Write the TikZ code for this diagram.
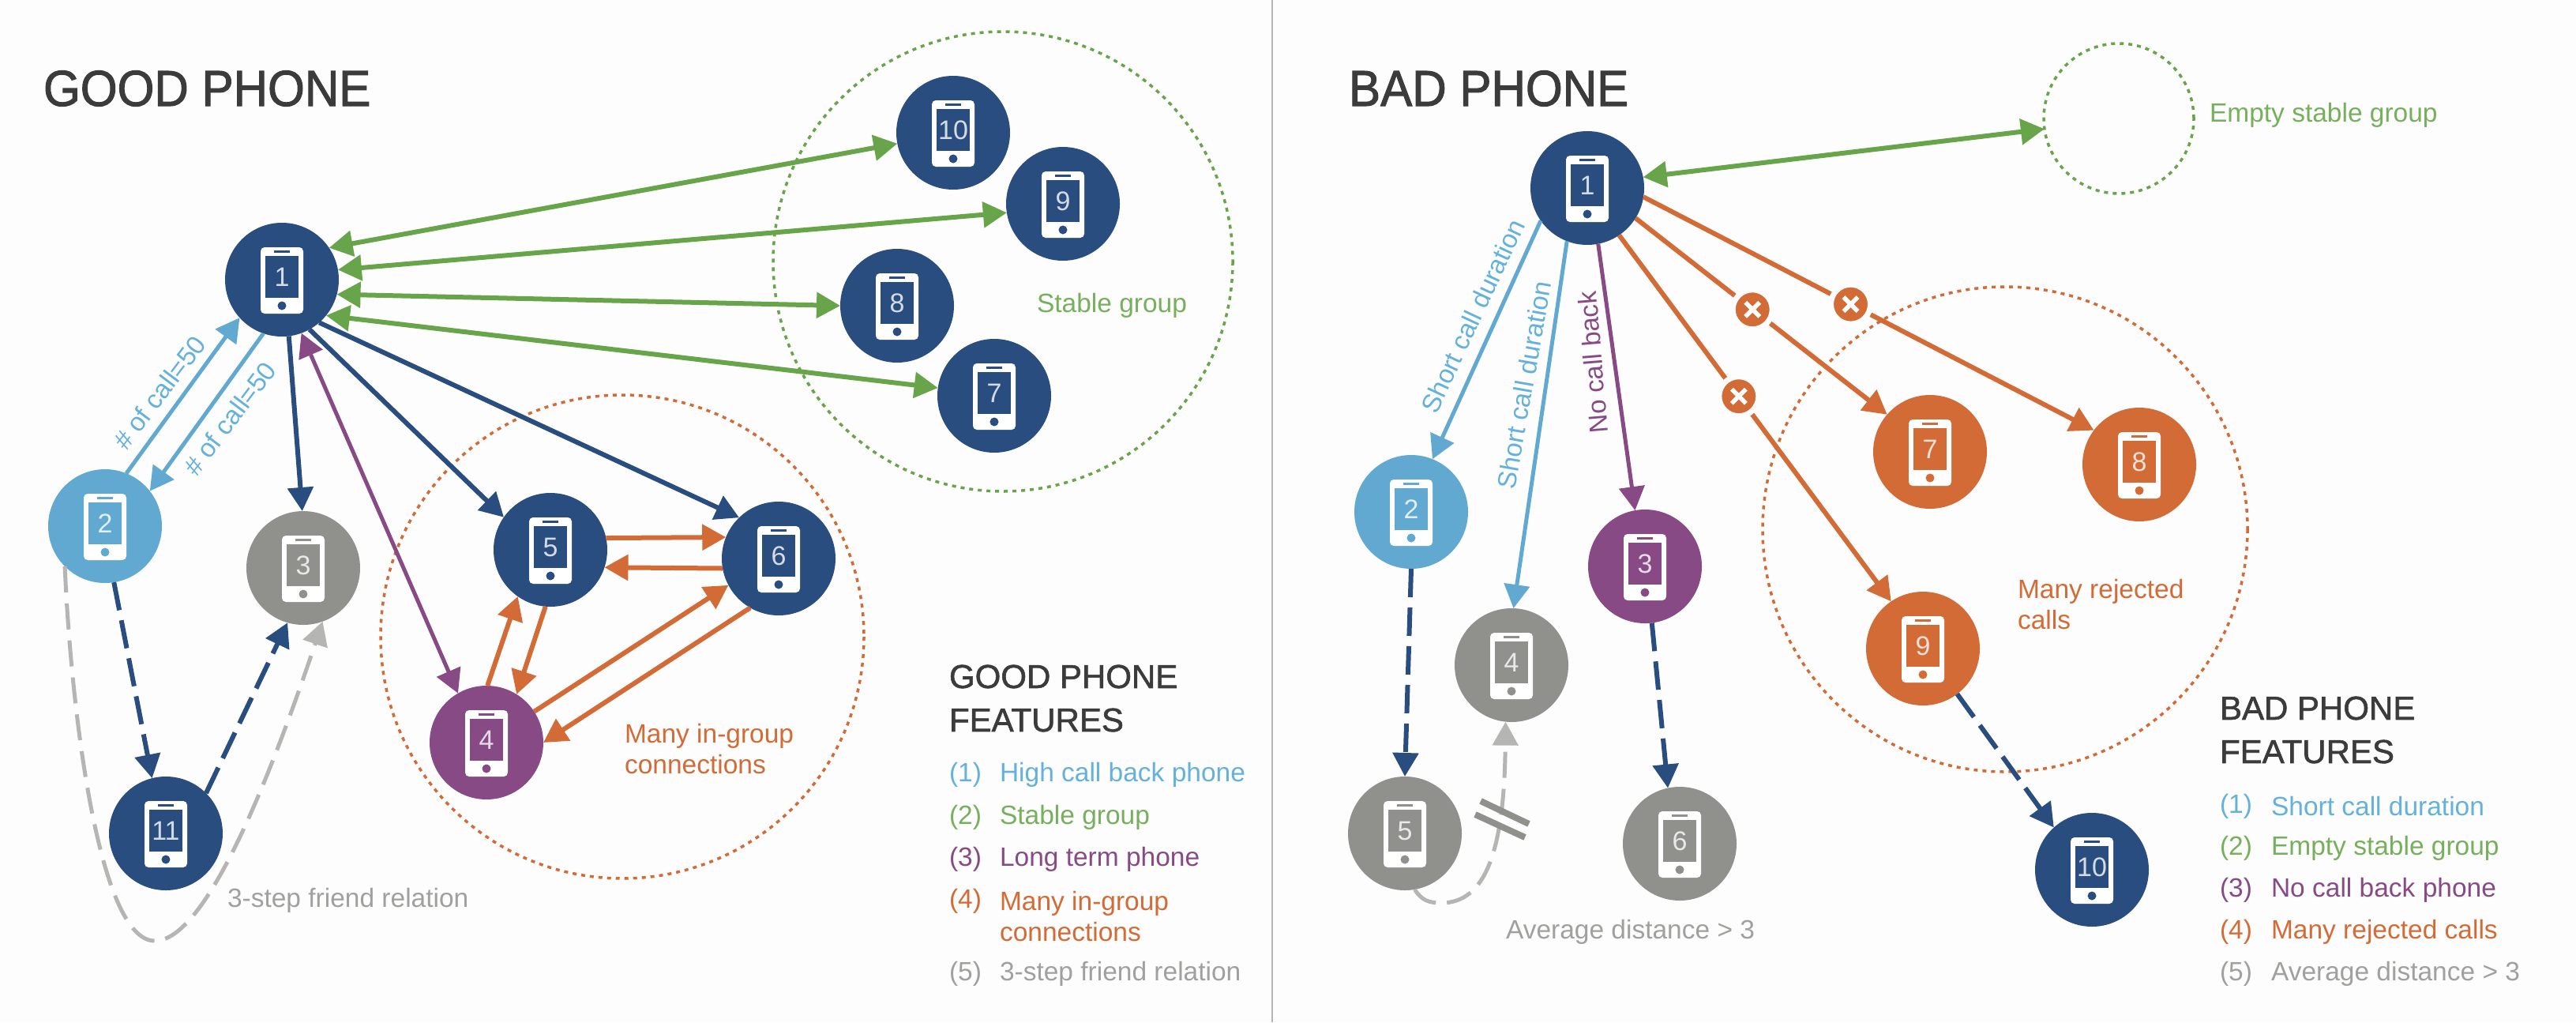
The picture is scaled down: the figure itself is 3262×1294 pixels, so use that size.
\documentclass[tikz,border=0pt]{standalone}
\usepackage{fontspec}
\setmainfont{Liberation Sans}
\newfontfamily\headfont[FakeStretch=0.94,FakeBold=1.6]{Liberation Sans}
\newfontfamily\legendfont[FakeBold=1.4]{Liberation Sans}
\usetikzlibrary{arrows.meta,calc}
\definecolor{navy}{HTML}{2A4D80}
\definecolor{sky}{HTML}{62A9D2}
\definecolor{skytext}{HTML}{64B1DB}
\definecolor{stone}{HTML}{90908D}
\definecolor{plum}{HTML}{874A85}
\definecolor{rust}{HTML}{D36B36}
\definecolor{leaf}{HTML}{68A44A}
\definecolor{leaftext}{HTML}{76B05C}
\definecolor{ash}{HTML}{B5B5B3}
\definecolor{ink}{HTML}{3B3B3B}
\definecolor{graytext}{HTML}{A0A09E}
\definecolor{paper}{HTML}{FEFDFD}
\tikzset{
  phonedisc/.style={circle,inner sep=0pt,outer sep=0pt,minimum size=144pt},
  arr/.style={-{Triangle[length=30pt,width=32pt]},line width=#1},
  arr/.default=6pt,
  barr/.style={{Triangle[length=30pt,width=32pt]}-{Triangle[length=30pt,width=32pt]},line width=#1},
  barr/.default=6pt,
  dashline/.style={dash pattern=on 36pt off 13pt},
  ring/.style={line width=3.5pt,dash pattern=on 5pt off 6pt},
  txt/.style={inner sep=0pt,outer sep=0pt,anchor=west,align=left,font=\fontsize{33.5}{39}\selectfont},
  edgetxt/.style={inner sep=0pt,outer sep=0pt,font=\fontsize{33}{39}\selectfont},
  head/.style={inner sep=0pt,outer sep=0pt,anchor=west,align=left,text=ink,font=\legendfont\fontsize{42}{55}\selectfont},
  title/.style={inner sep=0pt,outer sep=0pt,anchor=west,text=ink,font=\headfont\fontsize{64}{70}\selectfont},
  xmark/.style={circle,solid,fill=rust,draw=paper,line width=7pt,inner sep=0pt,minimum size=50pt,
    path picture={
      \draw[-,solid,white,line width=5.5pt]
        ($(path picture bounding box.center)+(-9,-9)$) -- ($(path picture bounding box.center)+(9,9)$)
        ($(path picture bounding box.center)+(-9,9)$) -- ($(path picture bounding box.center)+(9,-9)$);
    }},
}
\newcommand{\phonepic}[4]{%
  \node[phonedisc,fill=#4] (#1) at (#2) {};
  \begin{scope}[shift={(#1.center)}]
    \fill[white,rounded corners=5pt] (-27,-41) rectangle (27,43);
    \fill[#4] (-21,-30) rectangle (21,23);
    \fill[#4] (-10,-37) rectangle (10,-34.5);
    \fill[#4] (0,33) circle (5.5);
    \node[inner sep=0pt,text=white!80!#4,font=\fontsize{34}{34}\selectfont] (#1num) at (0,-3) {#3};
  \end{scope}}
\begin{document}
\begin{tikzpicture}[x=1pt,y=-1pt]
\useasboundingbox (0,0) rectangle (3262,1294);
\fill[paper] (0,0) rectangle (3262,1294);
\coordinate (divtop) at (1611,0);
\coordinate (divbot) at (1611,1294);
\draw[color=ash,line width=2.5pt] (divtop) -- (divbot);

% rings
\draw[leaf,ring] (1270,331) circle (291);
\draw[rust,ring] (788,806) circle (306);
\draw[rust,ring] (2539,670) circle (307);
\node[circle,draw=leaf,ring,minimum size=190pt,inner sep=0pt,outer sep=0pt] (e) at (2683,150) {};

% GOOD phones
\phonepic{g1}{357,354}{1}{navy}
\phonepic{g2}{133,666}{2}{sky}
\phonepic{g3}{384,719}{3}{stone}
\phonepic{g4}{616,940}{4}{plum}
\phonepic{g5}{697,696}{5}{navy}
\phonepic{g6}{986,707}{6}{navy}
\phonepic{g7}{1259,501}{7}{navy}
\phonepic{g8}{1136,387}{8}{navy}
\phonepic{g9}{1346,258}{9}{navy}
\phonepic{g10}{1207,168}{10}{navy}
\phonepic{g11}{210,1055}{11}{navy}

% BAD phones
\phonepic{b1}{2010,238}{1}{navy}
\phonepic{b2}{1787,648}{2}{sky}
\phonepic{b3}{2083,717}{3}{plum}
\phonepic{b4}{1914,842}{4}{stone}
\phonepic{b5}{1779,1055}{5}{stone}
\phonepic{b6}{2127,1068}{6}{stone}
\phonepic{b7}{2444,572}{7}{rust}
\phonepic{b8}{2709,588}{8}{rust}
\phonepic{b9}{2435,821}{9}{rust}
\phonepic{b10}{2649,1101}{10}{navy}

% GOOD connectors
\draw[barr,leaf] (g1.34.7) -- (g10.191.9);
\draw[barr,leaf] (g1.10.7) -- (g9.189.3);
\draw[barr,leaf] (g1.-15) -- (g8.180);
\draw[barr,leaf] (g1.-39.6) -- (g7.172.2);
\draw[arr=5pt,sky] (g2.68.3) -- (g1.222.8);
\draw[arr=5pt,sky] (g1.251.3) -- (g2.38.4);
\draw[arr,navy] (g1.-83.7) -- (g3.91.6);
\draw[barr=5pt,plum] (g1.-70.8) -- (g4.120.8);
\draw[arr,navy] (g1.-61.4) -- (g5.145);
\draw[arr,navy] (g1.-49.7) -- (g6.134.5);
\draw[arr,rust] (g5.12.4) -- (g6.158.3);
\draw[arr,rust] (g6.190.4) -- (g5.-18.7);
\draw[arr,rust] (g4.89.2) -- (g5.235.3);
\draw[arr,rust] (g5.265.4) -- (g4.58.9);
\draw[arr,rust] (g4.33.9) -- (g6.208.2);
\draw[arr,rust] (g6.240.9) -- (g4.0);
\draw[arr,navy,dashline] (g2.-81.4) -- (g11.104.8);
\draw[arr,navy,dashline] (g11.45.5) -- (g3.254);
\coordinate (gbend) at (196,1191);
\draw[arr=5pt,ash,dash pattern=on 33pt off 14pt] (g2.225.5) .. controls (90,900) and (125,1191) .. (gbend)
  .. controls (260,1191) and (340,990) .. (g3.-70.6);

% BAD connectors
\draw[barr,leaf] (b1.11.6) -- (e.188.4);
\draw[arr=5pt,sky] (b1.215.2) -- (b2.68.7);
\draw[arr=5pt,sky] (b1.249.6) -- (b4.88.4);
\draw[arr=5pt,plum] (b1.-79) -- (b3.100.9);
\draw[arr,rust] (b1.-56.1) -- node[xmark,pos=.44] (x9) {} (b9.124.5);
\draw[arr,rust] (b1.-32.4) -- node[xmark,pos=.465] (x7) {} (b7.139.5);
\draw[arr,rust] (b1.-9.3) -- node[xmark,pos=.46] (x8) {} (b8.143.9);
\draw[arr,navy,dashline] (b2.-90.8) -- (b5.90);
\draw[arr,navy,dashline] (b3.-83.7) -- (b6.102.9);
\draw[arr,navy,dashline] (b9.-53.9) -- (b10.132.8);
\coordinate (bbend) at (1825,1143);
\draw[arr=5pt,ash,dash pattern=on 33pt off 14pt] (b5.-80.5) .. controls (1800,1140) and (1810,1143) .. (bbend)
  .. controls (1880,1143) and (1905,1080) .. (b4.264.6);
\coordinate (cutaa) at (1875,1014);
\coordinate (cutab) at (1936,1043);
\coordinate (cutba) at (1868,1031);
\coordinate (cutbb) at (1931,1060);
\draw[stone,line width=8pt] (cutaa) -- (cutab);
\draw[stone,line width=8pt] (cutba) -- (cutbb);

% titles
\node[title] (t1) at (55,112) {GOOD PHONE};
\node[title] (t2) at (1708,112) {BAD PHONE};

% GOOD labels
\node[txt,text=leaftext] (lstable) at (1313,387) {Stable group};
\node[txt,text=rust] (lmany) at (791,948) {Many in-group\\connections};
\node[txt,text=graytext] (lstep) at (288,1140) {3-step friend relation};
\node[edgetxt,text=skytext,rotate=53] (lc1) at (202,497) {\# of call=50};
\node[edgetxt,text=skytext,rotate=53] (lc2) at (291,530) {\# of call=50};

% BAD labels
\node[txt,text=leaftext] (lempty) at (2798,146) {Empty stable group};
\node[txt,text=rust] (lrej) at (2555,765) {Many rejected\\calls};
\node[txt,text=graytext] (lavg) at (1907,1180) {Average distance > 3};
\node[edgetxt,text=skytext,rotate=65] (ls1) at (1865,400) {Short call duration};
\node[edgetxt,text=skytext,rotate=80] (ls2) at (1930,487) {Short call duration};
\node[edgetxt,text=plum,rotate=94.7] (ln) at (2017,459) {No call back};

% GOOD legend
\node[head] (gh) at (1202,884) {GOOD PHONE\\FEATURES};
\node[txt,text=skytext] (gn1) at (1202,981) {(1)};
\node[txt,text=skytext] (gi1) at (1266,981) {High call back phone};
\node[txt,text=leaftext] (gn2) at (1202,1035) {(2)};
\node[txt,text=leaftext] (gi2) at (1266,1035) {Stable group};
\node[txt,text=plum] (gn3) at (1202,1088) {(3)};
\node[txt,text=plum] (gi3) at (1266,1088) {Long term phone};
\node[txt,text=rust] (gn4) at (1202,1141) {(4)};
\node[txt,text=rust] (gi4) at (1266,1160) {Many in-group\\connections};
\node[txt,text=graytext] (gn5) at (1202,1233) {(5)};
\node[txt,text=graytext] (gi5) at (1266,1233) {3-step friend relation};

% BAD legend
\node[head] (bh) at (2811,924) {BAD PHONE\\FEATURES};
\node[txt,text=skytext] (bn1) at (2811,1021) {(1)};
\node[txt,text=skytext] (bi1) at (2876,1021) {Short call duration};
\node[txt,text=leaftext] (bn2) at (2811,1074) {(2)};
\node[txt,text=leaftext] (bi2) at (2876,1074) {Empty stable group};
\node[txt,text=plum] (bn3) at (2811,1127) {(3)};
\node[txt,text=plum] (bi3) at (2876,1127) {No call back phone};
\node[txt,text=rust] (bn4) at (2811,1180) {(4)};
\node[txt,text=rust] (bi4) at (2876,1180) {Many rejected calls};
\node[txt,text=graytext] (bn5) at (2811,1233) {(5)};
\node[txt,text=graytext] (bi5) at (2876,1233) {Average distance > 3};
\end{tikzpicture}
\end{document}
